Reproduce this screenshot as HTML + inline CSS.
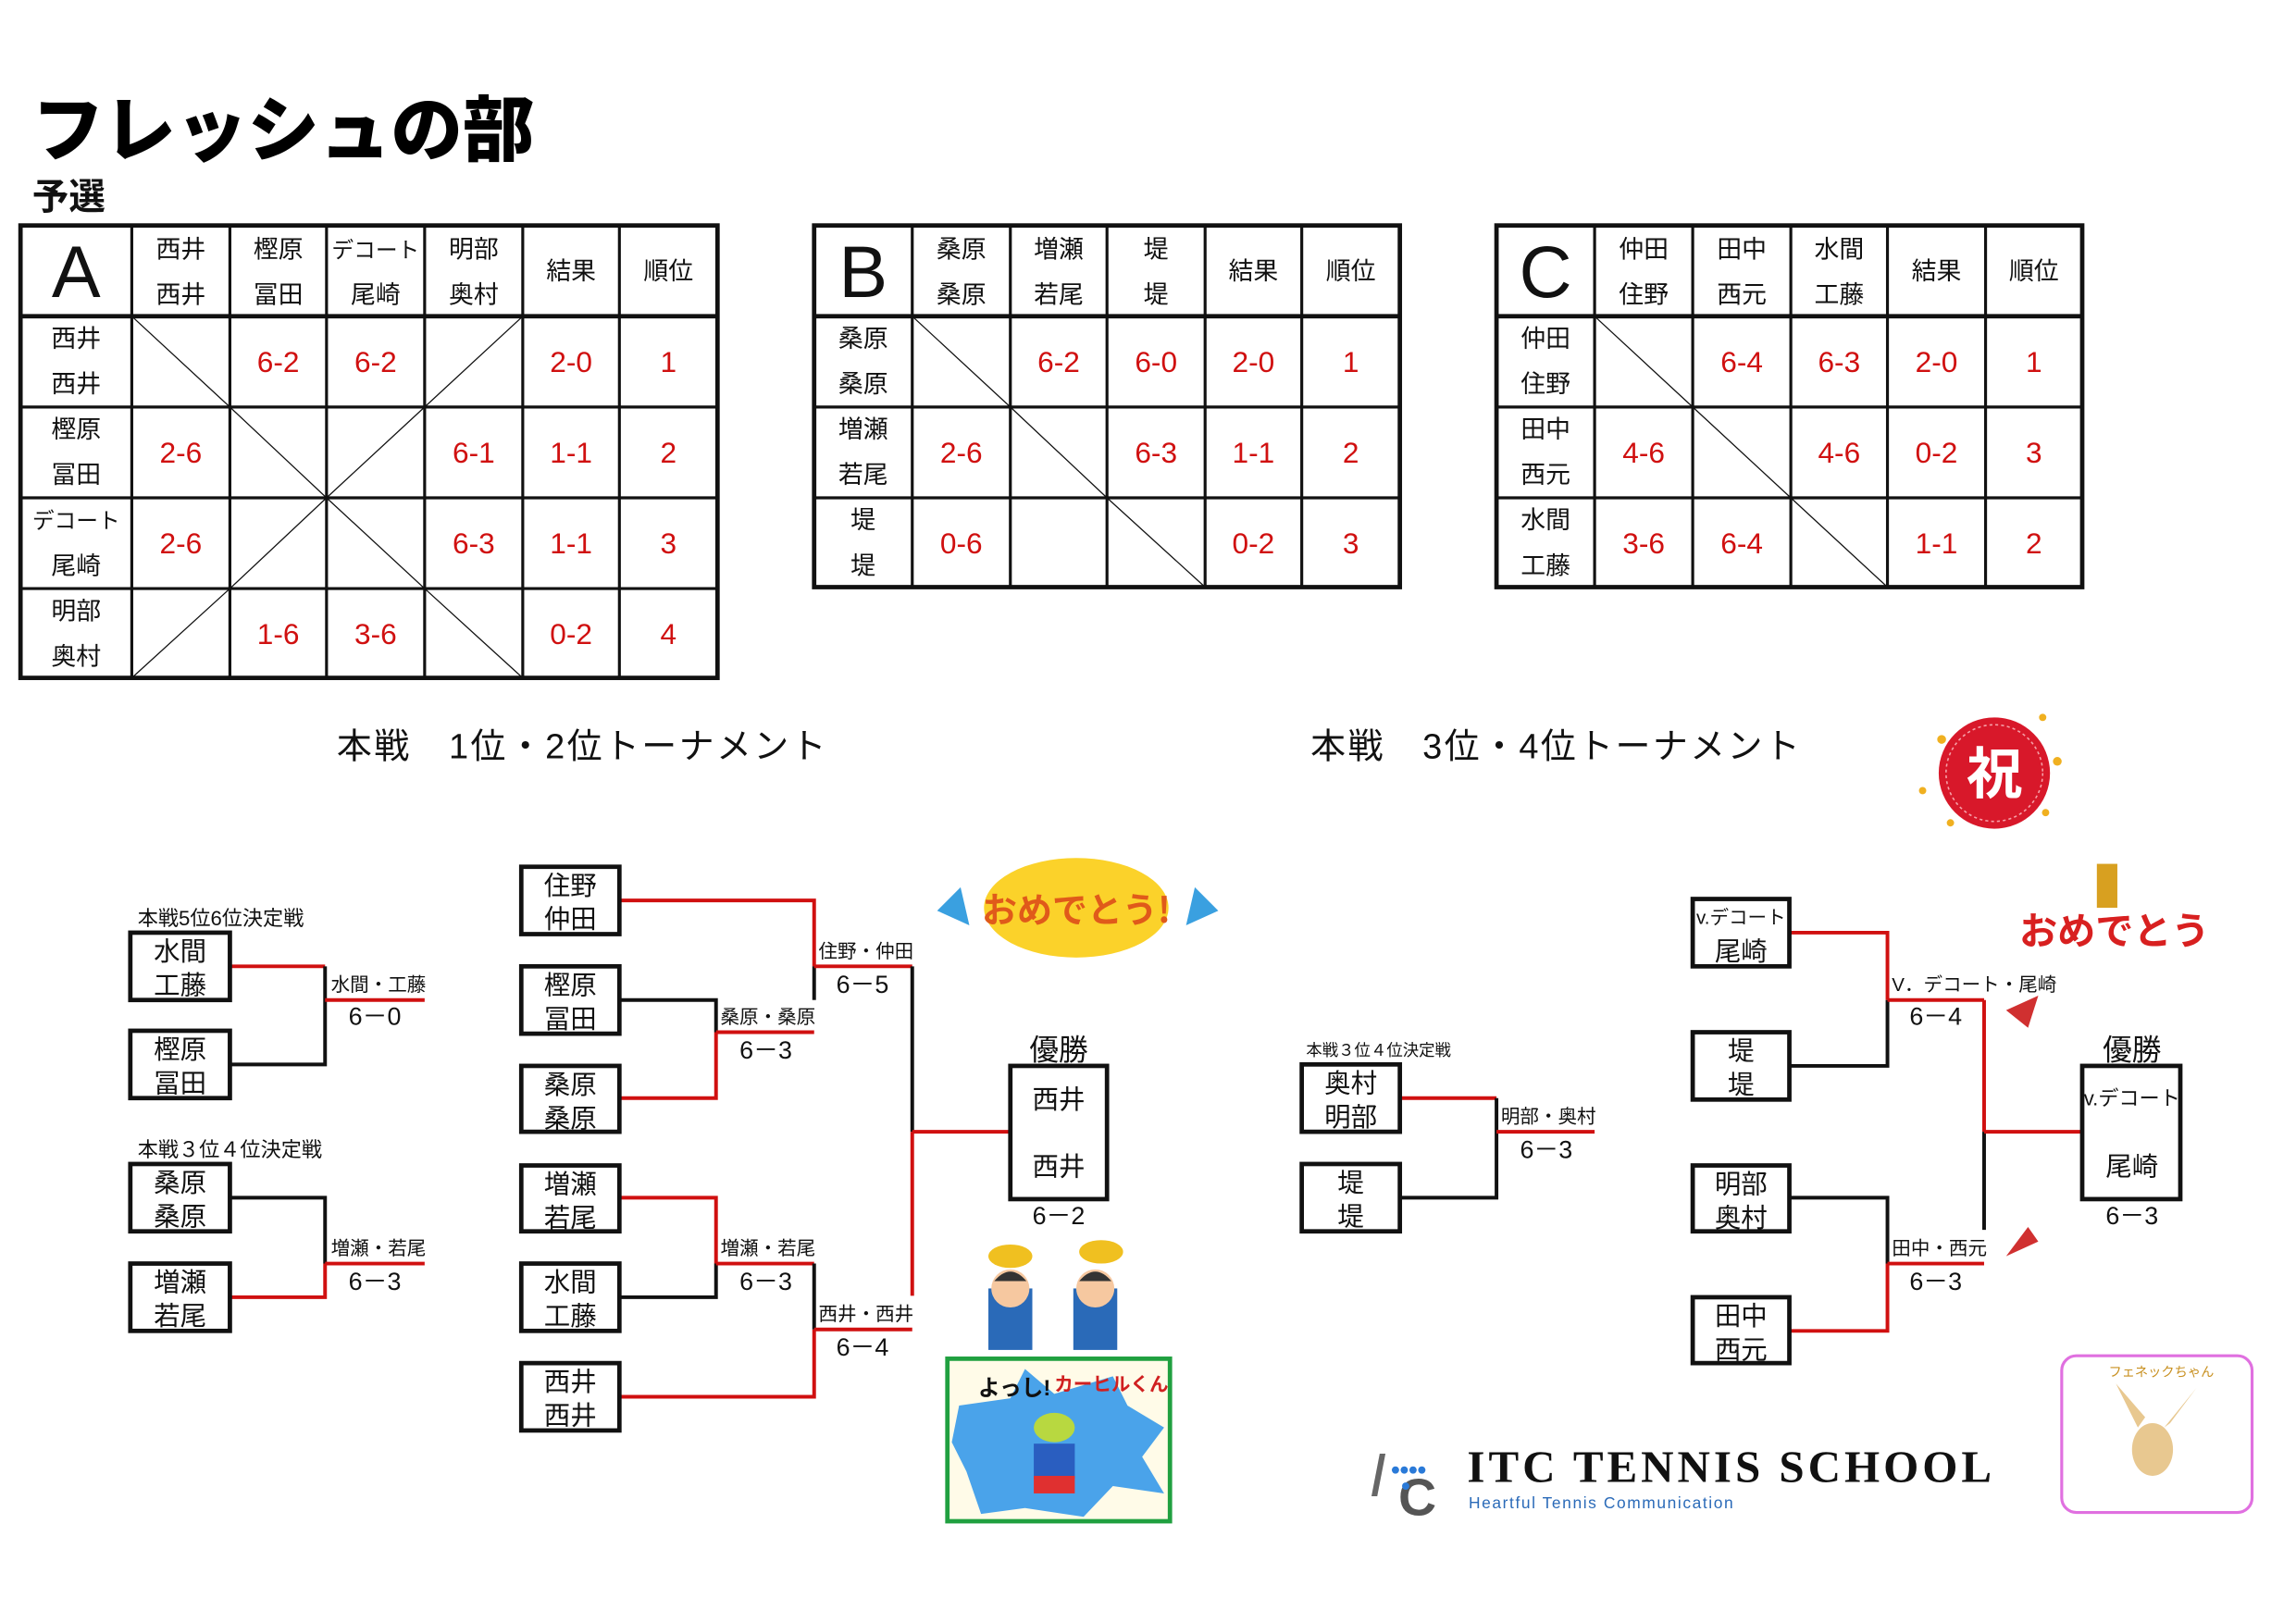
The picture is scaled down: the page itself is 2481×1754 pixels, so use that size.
<!DOCTYPE html>
<html><head><meta charset="utf-8"><style>
html,body{margin:0;padding:0;background:#fff;}
svg{display:block;}
text{font-family:"Liberation Sans","Noto Sans CJK JP",sans-serif;}
.n{font-size:17px;fill:#111;text-anchor:middle;}
.r{font-size:20px;fill:#d01010;text-anchor:middle;}
.b{font-size:18px;fill:#111;text-anchor:middle;}
.l{font-size:13px;fill:#111;}
.s{font-size:17px;fill:#111;text-anchor:middle;}
</style></head><body>
<svg width="2481" height="1754" viewBox="0 0 1568 1108.5" preserveAspectRatio="none" xmlns="http://www.w3.org/2000/svg">
<rect x="0" y="0" width="1568" height="1109" fill="#fff"/>
<!-- Title -->
<text x="22" y="106" style="font-size:49px;font-weight:900;fill:#000;font-family:'Noto Sans CJK JP',sans-serif;">フレッシュの部</text>
<text x="22" y="143" style="font-size:25px;font-weight:bold;fill:#111;font-family:'Noto Sans CJK JP',sans-serif;">予選</text>

<!-- TABLE A -->
<g stroke="#111" fill="none">
<rect x="14" y="154" width="476" height="309" stroke-width="3"/>
<g stroke-width="2">
<line x1="90" y1="154" x2="90" y2="463"/><line x1="157" y1="154" x2="157" y2="463"/><line x1="223" y1="154" x2="223" y2="463"/><line x1="290" y1="154" x2="290" y2="463"/><line x1="357" y1="154" x2="357" y2="463"/><line x1="423" y1="154" x2="423" y2="463"/>
<line x1="14" y1="216" x2="490" y2="216" stroke-width="3"/><line x1="14" y1="278" x2="490" y2="278"/><line x1="14" y1="340" x2="490" y2="340"/><line x1="14" y1="402" x2="490" y2="402"/>
</g>
<g stroke-width="0.8">
<line x1="90" y1="216" x2="157" y2="278"/><line x1="290" y1="278" x2="357" y2="216"/>
<line x1="157" y1="278" x2="223" y2="340"/><line x1="223" y1="340" x2="290" y2="278"/>
<line x1="157" y1="402" x2="223" y2="340"/><line x1="223" y1="340" x2="290" y2="402"/>
<line x1="90" y1="463" x2="157" y2="402"/><line x1="290" y1="402" x2="357" y2="463"/>
</g>
</g>
<text x="52" y="203" style="font-size:50px;text-anchor:middle;fill:#111;">A</text>
<text class="n" x="123.5" y="176">西井</text><text class="n" x="123.5" y="207">西井</text>
<text class="n" x="190" y="176">樫原</text><text class="n" x="190" y="207">冨田</text>
<text class="n" x="256.5" y="176" style="font-size:15px">デコート</text><text class="n" x="256.5" y="207">尾崎</text>
<text class="n" x="323.5" y="176">明部</text><text class="n" x="323.5" y="207">奥村</text>
<text class="n" x="390" y="191">結果</text><text class="n" x="456.5" y="191">順位</text>
<text class="n" x="52" y="237">西井</text><text class="n" x="52" y="268">西井</text>
<text class="n" x="52" y="299">樫原</text><text class="n" x="52" y="330">冨田</text>
<text class="n" x="52" y="361" style="font-size:15px">デコート</text><text class="n" x="52" y="392">尾崎</text>
<text class="n" x="52" y="423">明部</text><text class="n" x="52" y="454">奥村</text>
<text class="r" x="190" y="254">6-2</text><text class="r" x="256.5" y="254">6-2</text><text class="r" x="390" y="254">2-0</text><text class="r" x="456.5" y="254">1</text>
<text class="r" x="123.5" y="316">2-6</text><text class="r" x="323.5" y="316">6-1</text><text class="r" x="390" y="316">1-1</text><text class="r" x="456.5" y="316">2</text>
<text class="r" x="123.5" y="378">2-6</text><text class="r" x="323.5" y="378">6-3</text><text class="r" x="390" y="378">1-1</text><text class="r" x="456.5" y="378">3</text>
<text class="r" x="190" y="440">1-6</text><text class="r" x="256.5" y="440">3-6</text><text class="r" x="390" y="440">0-2</text><text class="r" x="456.5" y="440">4</text>

<!-- TABLE B -->
<g stroke="#111" fill="none">
<rect x="556" y="154" width="400" height="247" stroke-width="3"/>
<g stroke-width="2">
<line x1="623" y1="154" x2="623" y2="401"/><line x1="690" y1="154" x2="690" y2="401"/><line x1="756" y1="154" x2="756" y2="401"/><line x1="823" y1="154" x2="823" y2="401"/><line x1="889" y1="154" x2="889" y2="401"/>
<line x1="556" y1="216" x2="956" y2="216" stroke-width="3"/><line x1="556" y1="278" x2="956" y2="278"/><line x1="556" y1="340" x2="956" y2="340"/>
</g>
<g stroke-width="0.8">
<line x1="623" y1="216" x2="690" y2="278"/><line x1="690" y1="278" x2="756" y2="340"/><line x1="756" y1="340" x2="823" y2="401"/>
</g>
</g>
<text x="589.5" y="203" style="font-size:50px;text-anchor:middle;fill:#111;">B</text>
<text class="n" x="656.5" y="176">桑原</text><text class="n" x="656.5" y="207">桑原</text>
<text class="n" x="723" y="176">増瀬</text><text class="n" x="723" y="207">若尾</text>
<text class="n" x="789.5" y="176">堤</text><text class="n" x="789.5" y="207">堤</text>
<text class="n" x="856" y="191">結果</text><text class="n" x="922.5" y="191">順位</text>
<text class="n" x="589.5" y="237">桑原</text><text class="n" x="589.5" y="268">桑原</text>
<text class="n" x="589.5" y="299">増瀬</text><text class="n" x="589.5" y="330">若尾</text>
<text class="n" x="589.5" y="361">堤</text><text class="n" x="589.5" y="392">堤</text>
<text class="r" x="723" y="254">6-2</text><text class="r" x="789.5" y="254">6-0</text><text class="r" x="856" y="254">2-0</text><text class="r" x="922.5" y="254">1</text>
<text class="r" x="656.5" y="316">2-6</text><text class="r" x="789.5" y="316">6-3</text><text class="r" x="856" y="316">1-1</text><text class="r" x="922.5" y="316">2</text>
<text class="r" x="656.5" y="378">0-6</text><text class="r" x="856" y="378">0-2</text><text class="r" x="922.5" y="378">3</text>

<!-- TABLE C -->
<g stroke="#111" fill="none">
<rect x="1022" y="154" width="400" height="247" stroke-width="3"/>
<g stroke-width="2">
<line x1="1089" y1="154" x2="1089" y2="401"/><line x1="1156" y1="154" x2="1156" y2="401"/><line x1="1223" y1="154" x2="1223" y2="401"/><line x1="1289" y1="154" x2="1289" y2="401"/><line x1="1356" y1="154" x2="1356" y2="401"/>
<line x1="1022" y1="216" x2="1422" y2="216" stroke-width="3"/><line x1="1022" y1="278" x2="1422" y2="278"/><line x1="1022" y1="340" x2="1422" y2="340"/>
</g>
<g stroke-width="0.8">
<line x1="1089" y1="216" x2="1156" y2="278"/><line x1="1156" y1="278" x2="1223" y2="340"/><line x1="1223" y1="340" x2="1289" y2="401"/>
</g>
</g>
<text x="1055.5" y="203" style="font-size:50px;text-anchor:middle;fill:#111;">C</text>
<text class="n" x="1122.5" y="176">仲田</text><text class="n" x="1122.5" y="207">住野</text>
<text class="n" x="1189.5" y="176">田中</text><text class="n" x="1189.5" y="207">西元</text>
<text class="n" x="1256" y="176">水間</text><text class="n" x="1256" y="207">工藤</text>
<text class="n" x="1322.5" y="191">結果</text><text class="n" x="1389" y="191">順位</text>
<text class="n" x="1055.5" y="237">仲田</text><text class="n" x="1055.5" y="268">住野</text>
<text class="n" x="1055.5" y="299">田中</text><text class="n" x="1055.5" y="330">西元</text>
<text class="n" x="1055.5" y="361">水間</text><text class="n" x="1055.5" y="392">工藤</text>
<text class="r" x="1189.5" y="254">6-4</text><text class="r" x="1256" y="254">6-3</text><text class="r" x="1322.5" y="254">2-0</text><text class="r" x="1389" y="254">1</text>
<text class="r" x="1122.5" y="316">4-6</text><text class="r" x="1256" y="316">4-6</text><text class="r" x="1322.5" y="316">0-2</text><text class="r" x="1389" y="316">3</text>
<text class="r" x="1122.5" y="378">3-6</text><text class="r" x="1189.5" y="378">6-4</text><text class="r" x="1322.5" y="378">1-1</text><text class="r" x="1389" y="378">2</text>

<!-- Headings -->
<text x="230" y="518" style="font-size:24px;fill:#111;letter-spacing:1.5px;">本戦　1位・2位トーナメント</text>
<text x="895" y="518" style="font-size:24px;fill:#111;letter-spacing:1.5px;">本戦　3位・4位トーナメント</text>

<!-- 祝 badge -->
<circle cx="1362" cy="528" r="38" fill="#d8182a"/>
<circle cx="1362" cy="528" r="33" fill="none" stroke="#f6a0a8" stroke-width="1" stroke-dasharray="2 2"/>
<text x="1362" y="542" style="font-size:38px;font-weight:bold;fill:#fff;text-anchor:middle;font-family:'Noto Sans CJK JP',sans-serif;">祝</text>
<g fill="#f0b020"><circle cx="1326" cy="505" r="3"/><circle cx="1405" cy="520" r="3"/><circle cx="1395" cy="490" r="2.5"/><circle cx="1397" cy="555" r="2.5"/><circle cx="1313" cy="540" r="2.5"/><circle cx="1332" cy="562" r="2.5"/></g>

<!-- LEFT small brackets -->
<g fill="none" stroke-width="2.5">
<path d="M157 660 H222" stroke="#d01010"/><path d="M157 727 H222 V660" stroke="#111"/><path d="M222 683 H290" stroke="#d01010"/>
<path d="M157 818 H222 V863" stroke="#111"/><path d="M157 886 H222 V863" stroke="#d01010"/><path d="M222 863 H290" stroke="#d01010"/>
</g>
<text class="l" x="94" y="632" style="font-size:14px">本戦5位6位決定戦</text>
<text class="l" x="94" y="790" style="font-size:14px">本戦３位４位決定戦</text>
<text class="l" x="226" y="677">水間・工藤</text><text class="s" x="256" y="700">6－0</text>
<text class="l" x="226" y="857">増瀬・若尾</text><text class="s" x="256" y="881">6－3</text>
<g fill="#fff" stroke="#111" stroke-width="3">
<rect x="89" y="637" width="68" height="46"/><rect x="89" y="704" width="68" height="46"/>
<rect x="89" y="795" width="68" height="46"/><rect x="89" y="863" width="68" height="46"/>
</g>
<text class="b" x="123" y="656">水間</text><text class="b" x="123" y="679">工藤</text>
<text class="b" x="123" y="723">樫原</text><text class="b" x="123" y="746">冨田</text>
<text class="b" x="123" y="814">桑原</text><text class="b" x="123" y="837">桑原</text>
<text class="b" x="123" y="882">増瀬</text><text class="b" x="123" y="905">若尾</text>

<!-- MAIN left bracket -->
<g fill="none" stroke-width="2.5">
<path d="M423 615 H556 V660" stroke="#d01010"/><path d="M556 660 V683" stroke="#111"/>
<path d="M423 683 H489 V705" stroke="#111"/><path d="M423 750 H489 V705" stroke="#d01010"/><path d="M489 705 H556" stroke="#d01010"/>
<path d="M556 660 H623" stroke="#d01010"/>
<path d="M623 660 V773" stroke="#111"/><path d="M623 773 V885" stroke="#d01010"/>
<path d="M623 773 H690" stroke="#d01010"/>
<path d="M423 818 H489 V863" stroke="#d01010"/><path d="M423 886 H489 V863" stroke="#111"/><path d="M489 863 H556" stroke="#d01010"/>
<path d="M556 863 V908" stroke="#111"/><path d="M423 954 H556 V908" stroke="#d01010"/><path d="M556 908 H623" stroke="#d01010"/>
</g>
<text class="l" x="559" y="654">住野・仲田</text><text class="s" x="589" y="678">6－5</text>
<text class="l" x="492" y="699">桑原・桑原</text><text class="s" x="523" y="723">6－3</text>
<text class="l" x="492" y="857">増瀬・若尾</text><text class="s" x="523" y="881">6－3</text>
<text class="l" x="559" y="902">西井・西井</text><text class="s" x="589" y="926">6－4</text>
<g fill="#fff" stroke="#111" stroke-width="3">
<rect x="356" y="592" width="67" height="46"/><rect x="356" y="660" width="67" height="46"/><rect x="356" y="728" width="67" height="45"/>
<rect x="356" y="796" width="67" height="45"/><rect x="356" y="863" width="67" height="46"/><rect x="356" y="931" width="67" height="46"/>
<rect x="690" y="728" width="66" height="91"/>
</g>
<text class="b" x="389.5" y="611">住野</text><text class="b" x="389.5" y="634">仲田</text>
<text class="b" x="389.5" y="679">樫原</text><text class="b" x="389.5" y="702">冨田</text>
<text class="b" x="389.5" y="747">桑原</text><text class="b" x="389.5" y="770">桑原</text>
<text class="b" x="389.5" y="815">増瀬</text><text class="b" x="389.5" y="838">若尾</text>
<text class="b" x="389.5" y="882">水間</text><text class="b" x="389.5" y="905">工藤</text>
<text class="b" x="389.5" y="950">西井</text><text class="b" x="389.5" y="973">西井</text>
<text class="b" x="723" y="724" style="font-size:20px">優勝</text>
<text class="b" x="723" y="757">西井</text><text class="b" x="723" y="803">西井</text>
<text class="s" x="723" y="836">6－2</text>

<!-- おめでとう! -->
<ellipse cx="735" cy="620" rx="63" ry="34" fill="#fbd22a"/>
<text x="735" y="630" style="font-size:24px;font-weight:bold;fill:#e05a1a;text-anchor:middle;font-family:'Noto Sans CJK JP',sans-serif;">おめでとう!</text>
<polygon points="640,622 656,606 662,632" fill="#3aa0e0"/>
<polygon points="832,622 816,606 810,632" fill="#3aa0e0"/>

<!-- kids -->
<g>
<rect x="675" y="880" width="30" height="42" fill="#2a6ab8"/><circle cx="690" cy="880" r="13" fill="#f6c8a0"/><path d="M679 875 Q690 862 701 875" fill="#333"/><ellipse cx="690" cy="858" rx="15" ry="8" fill="#f0c020"/>
<rect x="733" y="880" width="30" height="42" fill="#2a6ab8"/><circle cx="748" cy="880" r="13" fill="#f6c8a0"/><path d="M737 875 Q748 862 759 875" fill="#333"/><ellipse cx="752" cy="855" rx="15" ry="8" fill="#f0c020"/>
</g>
<!-- green frame picture -->
<rect x="647" y="928" width="152" height="111" fill="#fffbe8" stroke="#20a040" stroke-width="3"/>
<polygon points="655,960 690,955 700,935 720,952 760,940 770,960 795,975 780,995 795,1020 760,1015 740,1036 700,1030 670,1034 660,1005 650,985" fill="#4aa3ea"/>
<ellipse cx="720" cy="975" rx="14" ry="10" fill="#b8d840"/>
<rect x="706" y="986" width="28" height="24" fill="#2a5ec0"/><rect x="706" y="1008" width="28" height="12" fill="#e03030"/>
<text x="668" y="953" style="font-size:15px;font-weight:bold;fill:#111;">よっし!</text>
<text x="720" y="950" style="font-size:13px;font-weight:bold;fill:#d02020;">カーヒルくん</text>

<!-- RIGHT 3-4 bracket -->
<g fill="none" stroke-width="2.5">
<path d="M956 750 H1022" stroke="#d01010"/><path d="M956 818 H1022 V750" stroke="#111"/><path d="M1022 773 H1089" stroke="#d01010"/>
</g>
<text class="l" x="892" y="721" style="font-size:11px">本戦３位４位決定戦</text>
<text class="l" x="1025" y="767">明部・奥村</text><text class="s" x="1056" y="791">6－3</text>
<g fill="#fff" stroke="#111" stroke-width="3">
<rect x="889" y="727" width="67" height="46"/><rect x="889" y="795" width="67" height="46"/>
</g>
<text class="b" x="922.5" y="746">奥村</text><text class="b" x="922.5" y="769">明部</text>
<text class="b" x="922.5" y="814">堤</text><text class="b" x="922.5" y="837">堤</text>

<!-- RIGHT main bracket -->
<g fill="none" stroke-width="2.5">
<path d="M1222 637 H1289 V683" stroke="#d01010"/><path d="M1222 728 H1289 V683" stroke="#111"/><path d="M1289 683 H1355" stroke="#d01010"/>
<path d="M1355 683 V773" stroke="#d01010"/><path d="M1355 773 V840" stroke="#111"/>
<path d="M1355 773 H1422" stroke="#d01010"/>
<path d="M1222 818 H1289 V863" stroke="#111"/><path d="M1222 909 H1289 V863" stroke="#d01010"/><path d="M1289 863 H1355" stroke="#d01010"/>
</g>
<text class="l" x="1292" y="677">V．デコート・尾崎</text><text class="s" x="1322" y="700">6－4</text>
<text class="l" x="1292" y="857">田中・西元</text><text class="s" x="1322" y="881">6－3</text>
<g fill="#fff" stroke="#111" stroke-width="3">
<rect x="1156" y="614" width="66" height="46"/><rect x="1156" y="705" width="66" height="46"/>
<rect x="1156" y="796" width="66" height="45"/><rect x="1156" y="886" width="66" height="45"/>
<rect x="1422" y="728" width="67" height="91"/>
</g>
<text class="b" x="1189" y="631" style="font-size:13px">v.デコート</text><text class="b" x="1189" y="656">尾崎</text>
<text class="b" x="1189" y="724">堤</text><text class="b" x="1189" y="747">堤</text>
<text class="b" x="1189" y="815">明部</text><text class="b" x="1189" y="838">奥村</text>
<text class="b" x="1189" y="905">田中</text><text class="b" x="1189" y="928">西元</text>
<text class="b" x="1456" y="724" style="font-size:20px">優勝</text>
<text class="b" x="1456" y="755" style="font-size:14px">v.デコート</text><text class="b" x="1456" y="803">尾崎</text>
<text class="s" x="1456" y="836">6－3</text>

<!-- おめでとう red -->
<rect x="1432" y="590" width="14" height="30" fill="#d8a020"/>
<text x="1444" y="645" style="font-size:26px;font-weight:bold;fill:#d82020;text-anchor:middle;font-family:'Noto Sans CJK JP',sans-serif;">おめでとう</text>
<polygon points="1370,690 1392,680 1385,702" fill="#d03030"/>
<polygon points="1370,858 1392,848 1385,838" fill="#d03030"/>

<!-- ITC logo -->
<text x="935" y="1022" style="font-size:42px;font-style:italic;fill:#666;">I</text>
<text x="955" y="1035" style="font-size:36px;font-weight:bold;fill:#555;">C</text>
<g fill="#2a7ad8"><circle cx="953" cy="1004" r="2.5"/><circle cx="959" cy="1004" r="2.5"/><circle cx="965" cy="1004" r="2.5"/><circle cx="971" cy="1004" r="2.5"/><circle cx="960" cy="1015" r="2.5"/></g>
<text x="1002" y="1012" style="font-size:31px;font-family:'Liberation Serif',serif;font-weight:bold;fill:#111;letter-spacing:2.5px;">ITC TENNIS  SCHOOL</text>
<text x="1003" y="1030" style="font-size:11px;fill:#2a6ab8;letter-spacing:1px;">Heartful Tennis Communication</text>

<!-- pink frame -->
<rect x="1408" y="926" width="130" height="107" rx="10" fill="#fff" stroke="#e070e0" stroke-width="2"/>
<text x="1440" y="940" style="font-size:9px;fill:#c89020;">フェネックちゃん</text>
<ellipse cx="1470" cy="990" rx="14" ry="18" fill="#e8c890"/>
<path d="M1460 975 L1445 945 L1465 968 Z M1478 975 L1500 948 L1482 972 Z" fill="#e8c890"/>
</svg>
</body></html>
